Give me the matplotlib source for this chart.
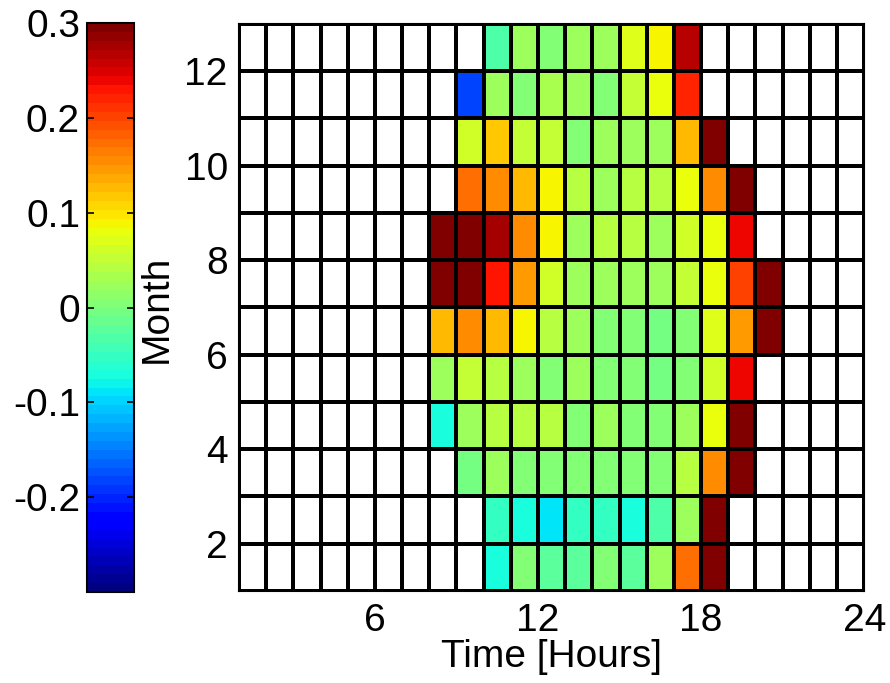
import numpy as np
from matplotlib import pyplot as plt

plt.rcParams['font.family'] = ['Liberation Sans', 'DejaVu Sans']
plt.rcParams['axes.unicode_minus'] = False

# first hour with data for each month, then the values from that hour on
months = list(range(1, 13))
start_hour = [10, 10, 9, 8, 8, 8, 8, 8, 9, 9, 9, 10]
m01 = [-0.066, 0, -0.019, -0.019, 0, -0.019, 0.028, 0.169, 0.3]
m02 = [-0.047, -0.066, -0.093, -0.056, -0.056, -0.066, -0.0375, 0.028, 0.3]
m03 = [-0.009, 0.019, 0, 0, 0, 0, 0.009, 0.009, 0.0375, 0.159, 0.3]
m04 = [-0.066, 0.019, 0.0375, 0.0375, 0.0375, 0.009, 0.019, 0.009, 0, 0.019, 0.075, 0.3]
m05 = [0.019, 0.048, 0.0375, 0.019, 0, 0.028, 0.009, 0, -0.009, 0.009, 0.057, 0.243]
m06 = [0.13, 0.159, 0.122, 0.093, 0.0375, 0.019, 0.009, 0.009, -0.009, 0.009, 0.066, 0.141, 0.3]
m07 = [0.3, 0.3, 0.234, 0.141, 0.057, 0.019, 0.019, 0.028, 0.019, 0.048, 0.075, 0.197, 0.3]
m08 = [0.3, 0.3, 0.281, 0.159, 0.093, 0.028, 0.0375, 0.0375, 0.028, 0.057, 0.075, 0.243]
m09 = [0.178, 0.159, 0.122, 0.093, 0.0375, 0.028, 0.0375, 0.0375, 0.075, 0.159, 0.3]
m10 = [0.057, 0.1125, 0.048, 0.048, 0.009, 0.028, 0.028, 0.028, 0.13, 0.3]
m11 = [-0.1875, 0.019, 0.009, 0.03, 0.019, 0.009, 0.048, 0.075, 0.216]
m12 = [-0.0375, 0.028, 0, 0.028, 0.025, 0.066, 0.0885, 0.27]
rows = [m01, m02, m03, m04, m05, m06, m07, m08, m09, m10, m11, m12]

hours = np.arange(1, 25)
month_edges = np.arange(1, 14)

grid = np.full((12, 23), np.nan)
for i, (s, vals) in enumerate(zip(start_hour, rows)):
  grid[i, s - 1:s - 1 + len(vals)] = vals
grid = np.ma.masked_invalid(grid)

fs = 28

fig = plt.figure(figsize=(8.9, 6.83), dpi=100)
ax = fig.add_axes([0.2685, 0.1347, 0.7025, 0.8302])
cax = fig.add_axes([0.0978, 0.1332, 0.0528, 0.8331])

cmap = plt.get_cmap('jet', 64)
mesh = ax.pcolormesh(hours, month_edges, grid, cmap=cmap, vmin=-0.3, vmax=0.3,
                     edgecolors='k', linewidth=1.5)

ax.set_xlim(1, 24)
ax.set_ylim(1, 13)
ax.set_xticks([6, 12, 18, 24])
ax.set_yticks([2, 4, 6, 8, 10, 12])
ax.set_xticks(range(1, 25), minor=True)
ax.set_yticks(range(1, 14), minor=True)
ax.grid(which='both', color='k', linewidth=1.5)
ax.set_axisbelow(False)
ax.tick_params(which='both', direction='in', labelsize=fs, length=5, width=1.2)
ax.tick_params(axis='x', pad=9)
ax.tick_params(axis='y', pad=8)
for sp in ax.spines.values():
  sp.set_linewidth(1.5)
ax.set_xlabel('Time [Hours]', fontsize=fs, labelpad=0)

cb = fig.colorbar(mesh, cax=cax)
cb.set_ticks([-0.2, -0.1, 0, 0.1, 0.2, 0.3])
cb.set_ticklabels(['-0.2', '-0.1', '0', '0.1', '0.2', '0.3'])
cax.yaxis.set_ticks_position('both')
cax.tick_params(direction='in', labelleft=True, labelright=False, labelsize=fs,
                length=5, width=1.2, pad=5)
cb.outline.set_linewidth(1.5)

fig.text(0.1764, 0.5476, 'Month', rotation=90, fontsize=fs, ha='center', va='center')

fig.savefig('out.png', dpi=100)
